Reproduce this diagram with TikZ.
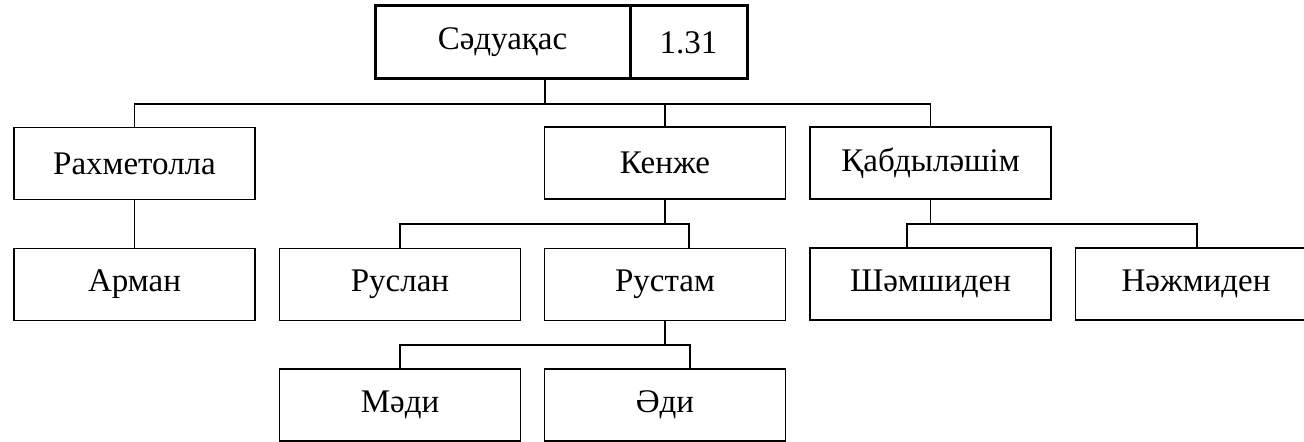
\documentclass[tikz,border=0pt]{standalone}
\usepackage{fontspec}
\setmainfont{Liberation Serif}
\usetikzlibrary{positioning}

\begin{document}
\begin{tikzpicture}[x=0.5pt,y=-0.5pt,line width=0.8pt,
    person/.style={draw,rectangle,inner sep=0pt,minimum width=120.5pt,minimum height=36pt,
      font=\fontsize{16.5}{19}\selectfont},
    headbox/.style={person,line width=1.5pt,minimum height=36.5pt}]
    \useasboundingbox (0,0) rectangle (1304,442);
    \clip (0,0) rectangle (1304,442);

    % head of the family
    \node[headbox,minimum width=127.5pt] (name) at (502.5,42.5) {Сәдуақас};
    \node[headbox,minimum width=58.5pt] (num) at (688.5,42.5) {1.31};

    % sons
    \node[person] (rakh) at (134.5,163.5) {Рахметолла};
    \node[person] (kenje) at (665,163) {Кенже};
    \node[person] (qab) at (930.5,163) {Қабдыләшім};

    % grandsons
    \node[person] (arman) at (134.5,284.5) {Арман};
    \node[person] (ruslan) at (400,284.5) {Руслан};
    \node[person] (rustam) at (665,284.5) {Рустам};
    \node[person] (shamsh) at (930.5,284) {Шәмшиден};
    \node[person] (nazh) at (1196,284) {Нәжмиден};

    % great-grandsons
    \node[person] (madi) at (400,405) {Мәди};
    \node[person] (adi) at (665,405) {Әди};

    % connectors
    \coordinate (bus1) at (545,104);
    \coordinate (bus2) at (689,224);
    \coordinate (bus3) at (690,345);
    \coordinate (bus4) at (907,224);
    \coordinate (bus5) at (1197,224);

    \draw (name.south -| bus1) -- (bus1);
    \draw (rakh.north) |- (bus1) -| (qab.north);
    \draw (kenje.north) -- (kenje.north |- bus1);
    \draw (rakh.south) -- (arman.north);

    \draw (kenje.south) -- (kenje.south |- bus2);
    \draw (ruslan.north) |- (bus2) -- (bus2 |- rustam.north);

    \draw (rustam.south) -- (rustam.south |- bus3);
    \draw (madi.north) |- (bus3) -- (bus3 |- adi.north);

    \draw (qab.south) -- (qab.south |- bus4);
    \draw (bus4 |- shamsh.north) -- (bus4) -- (bus5) -- (bus5 |- nazh.north);
  \end{tikzpicture}
\end{document}
